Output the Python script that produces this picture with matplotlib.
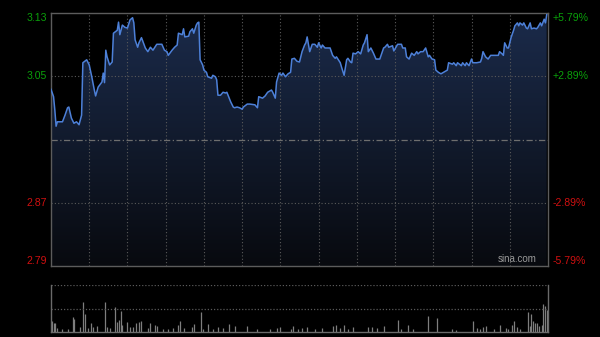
import numpy as np
import matplotlib
matplotlib.use("Agg")
import matplotlib.pyplot as plt
from matplotlib.colors import LinearSegmentedColormap

# intraday data (minutes from open, price)
minutes = [0, 2, 3, 4, 5, 9, 11, 13, 14, 16, 18, 20, 22, 24, 25, 28, 30, 32, 34, 35,
           37, 40, 41, 42, 43, 44, 46, 48, 49, 52, 53, 54, 56, 58, 60, 62, 64, 65, 66, 68,
           69, 71, 74, 76, 78, 80, 83, 87, 89, 91, 92, 95, 97, 99, 100, 103, 104, 105, 108, 109,
           111, 112, 114, 115, 116, 117, 119, 120, 122, 123, 126, 127, 129, 130, 131, 133, 135, 137, 138, 141,
           143, 144, 146, 148, 150, 151, 154, 156, 160, 162, 163, 166, 168, 170, 173, 174, 176, 177, 179, 181,
           182, 184, 186, 188, 189, 191, 193, 195, 197, 199, 200, 201, 203, 205, 207, 209, 210, 212, 213, 215,
           219, 221, 223, 224, 227, 228, 230, 232, 233, 235, 236, 237, 239, 241, 243, 245, 246, 248, 249, 251,
           253, 255, 258, 261, 262, 264, 265, 268, 269, 272, 275, 276, 278, 279, 281, 283, 285, 287, 288, 290,
           292, 294, 296, 297, 299, 301, 302, 304, 306, 308, 311, 312, 315, 316, 318, 319, 322, 323, 325, 326,
           328, 330, 331, 334, 337, 338, 339, 341, 343, 345, 351, 352, 354, 355, 356, 358, 359, 361, 363, 364,
           366, 367, 368, 370, 371, 373, 374, 376, 377, 379, 381, 382, 384, 385, 387, 388, 389]
prices = [3.028, 3.018, 3.000, 2.978, 2.984, 2.984, 2.993, 3.003, 3.004, 2.989, 2.982, 2.984, 2.980, 2.993, 3.064, 3.068, 3.061, 3.045, 3.027, 3.019,
          3.031, 3.038, 3.050, 3.037, 3.081, 3.072, 3.061, 3.065, 3.104, 3.108, 3.119, 3.102, 3.115, 3.112, 3.111, 3.122, 3.125, 3.118, 3.095, 3.085,
          3.091, 3.098, 3.084, 3.079, 3.085, 3.081, 3.089, 3.089, 3.081, 3.079, 3.074, 3.081, 3.085, 3.088, 3.104, 3.102, 3.110, 3.099, 3.100, 3.106,
          3.110, 3.104, 3.115, 3.118, 3.119, 3.068, 3.061, 3.054, 3.051, 3.045, 3.043, 3.047, 3.045, 3.041, 3.020, 3.020, 3.024, 3.023, 3.024, 3.011,
          3.004, 3.003, 3.004, 3.003, 3.001, 3.004, 3.008, 3.008, 3.007, 3.003, 3.018, 3.016, 3.019, 3.024, 3.027, 3.024, 3.016, 3.038, 3.050, 3.047,
          3.050, 3.045, 3.049, 3.051, 3.069, 3.070, 3.066, 3.065, 3.079, 3.088, 3.091, 3.099, 3.079, 3.089, 3.089, 3.085, 3.091, 3.084, 3.088, 3.084,
          3.084, 3.074, 3.070, 3.072, 3.064, 3.058, 3.047, 3.068, 3.070, 3.065, 3.064, 3.077, 3.076, 3.079, 3.076, 3.088, 3.091, 3.102, 3.079, 3.084,
          3.077, 3.069, 3.069, 3.084, 3.085, 3.089, 3.085, 3.087, 3.080, 3.089, 3.089, 3.084, 3.084, 3.072, 3.069, 3.077, 3.074, 3.079, 3.076, 3.079,
          3.079, 3.084, 3.072, 3.074, 3.069, 3.068, 3.054, 3.051, 3.049, 3.051, 3.054, 3.064, 3.062, 3.064, 3.060, 3.064, 3.060, 3.064, 3.060, 3.064,
          3.060, 3.069, 3.064, 3.064, 3.065, 3.070, 3.079, 3.072, 3.069, 3.074, 3.074, 3.079, 3.076, 3.074, 3.091, 3.084, 3.084, 3.098, 3.108, 3.114,
          3.118, 3.114, 3.118, 3.115, 3.118, 3.111, 3.110, 3.118, 3.110, 3.111, 3.110, 3.112, 3.118, 3.114, 3.123, 3.118, 3.129]

vol_minutes = [1, 2, 3, 5, 9, 13, 17, 18, 23, 25, 27, 29, 31, 33, 36, 42, 44, 46, 50, 52,
               53, 55, 56, 60, 62, 64, 67, 69, 71, 76, 78, 82, 83, 88, 92, 96, 100, 101, 104, 111,
               112, 118, 119, 123, 127, 131, 135, 140, 144, 154, 162, 172, 177, 180, 188, 190, 194, 197, 201, 207,
               213, 221, 224, 227, 230, 233, 237, 249, 252, 256, 261, 272, 275, 280, 284, 296, 303, 315, 318, 331,
               334, 337, 339, 341, 348, 352, 357, 359, 362, 363, 366, 368, 374, 376, 377, 378, 380, 381, 383, 385,
               386, 388, 389]
volumes = [11, 9, 9, 4, 3, 3, 15, 13, 5, 30, 18, 4, 9, 5, 6, 30, 5, 4, 25, 10,
           12, 21, 7, 10, 5, 5, 9, 10, 11, 4, 9, 7, 6, 3, 3, 4, 7, 11, 4, 5,
           8, 20, 3, 8, 3, 5, 4, 8, 6, 6, 3, 3, 4, 5, 3, 6, 3, 4, 5, 3,
           4, 6, 7, 4, 7, 3, 5, 5, 5, 4, 6, 12, 3, 7, 3, 16, 14, 3, 2, 11,
           4, 3, 5, 6, 3, 7, 4, 3, 7, 11, 5, 3, 20, 6, 18, 11, 9, 9, 6, 7,
           28, 26, 22]

prev_close = 2.96
pct_levels = [5.79, 2.89, -2.89, -5.79]
price_labels = ['3.13', '3.05', '2.87', '2.79']

bg = '#000000'
grid_c = '#5a5a5a'
green = '#0aa00a'
red = '#d01010'

plt.rcParams['font.family'] = ['Liberation Sans', 'DejaVu Sans']

fig = plt.figure(figsize=(6, 3.37), dpi=100, facecolor=bg)
ax = fig.add_axes([51/600, 1-266/337, 497/600, 253/337], facecolor=bg)
axv = fig.add_axes([51/600, 1-332/337, 497/600, 47/337], facecolor=bg)

ymin = prev_close * (1 - 0.0579)
ymax = prev_close * (1 + 0.0579)
ax.set_xlim(0, 390)
ax.set_ylim(ymin, ymax)

# gradient fill under the price line
x = np.array(minutes)
y = np.array(prices)
poly = ax.fill_between(x, y, ymin, color='none', lw=0)
cmap = LinearSegmentedColormap.from_list('g', ['#080a0f', '#1b2b4b'])
grad = np.linspace(0, 1, 256).reshape(-1, 1)
im = ax.imshow(grad, cmap=cmap, aspect='auto', origin='lower',
               extent=[0, 390, ymin, ymax], zorder=1)
im.set_clip_path(poly.get_paths()[0], transform=ax.transData)
ax.plot(x, y, color='#4d80d8', lw=1.1, zorder=3)

# grid
for k in range(1, 13):
    ax.axvline(k * 30, color=grid_c, lw=0.8, ls=(0, (1, 2)), zorder=2)
for p in [2.89, -2.89]:
    ax.axhline(prev_close * (1 + p / 100), color=grid_c, lw=0.8, ls=(0, (1, 2)), zorder=2)
ax.axhline(prev_close, color='#6e6e6e', lw=0.9, ls=(0, (5, 2, 1, 2)), zorder=2)

for s in ax.spines.values():
    s.set_color('#5c5c5c')
    s.set_linewidth(1)
ax.set_xticks([])
ax.set_yticks([])

# axis labels
vas = ['top', 'center', 'center', 'bottom']
for p, lab, va in zip(pct_levels, price_labels, vas):
    yv = prev_close * (1 + p / 100)
    c = green if p > 0 else red
    ax.text(-0.008, yv, lab, transform=ax.get_yaxis_transform(), ha='right', va=va,
            color=c, fontsize=7.6)
    ax.text(1.01, yv, ('+' if p > 0 else '') + '%.2f%%' % p, transform=ax.get_yaxis_transform(),
            ha='left', va=va, color=c, fontsize=7.6)

ax.text(0.978, 0.008, 'sina.com', transform=ax.transAxes, ha='right', va='bottom',
        color='#9a9a9a', fontsize=7)

# volume
axv.set_xlim(0, 390)
axv.set_ylim(0, 47)
axv.vlines(vol_minutes, 0, volumes, color='#7e7e7e', lw=0.9)
axv.axhline(47, color=grid_c, lw=0.9, ls=(0, (1, 1.5)))
axv.axhline(23.5, color=grid_c, lw=0.9, ls=(0, (1, 1.5)))
axv.spines['top'].set_visible(False)
for s in ['left', 'right', 'bottom']:
    axv.spines[s].set_color('#6a6a6a')
    axv.spines[s].set_linewidth(1)
axv.set_xticks([])
axv.set_yticks([])

fig.savefig('out.png', dpi=100, facecolor=bg)
